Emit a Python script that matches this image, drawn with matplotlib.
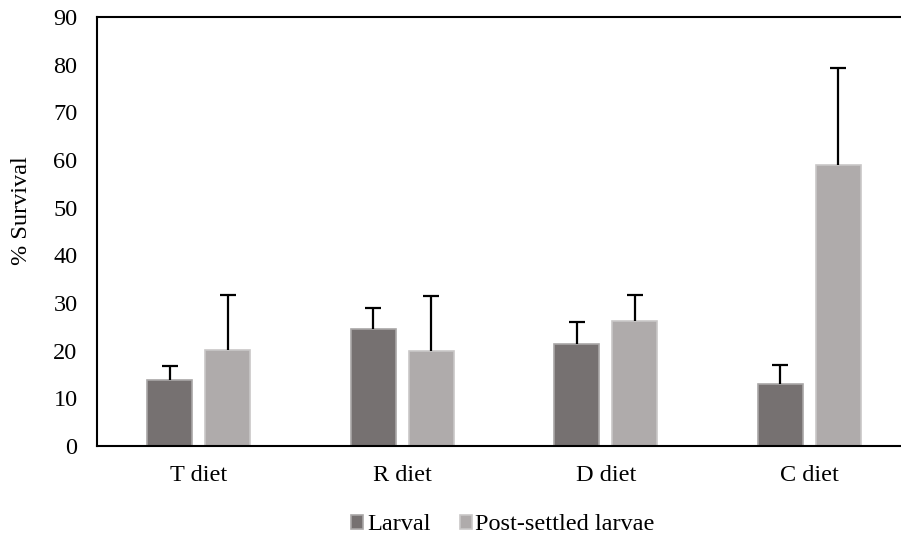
import matplotlib
matplotlib.use("Agg")
import matplotlib.pyplot as plt
import numpy as np

categories = ["T diet", "R diet", "D diet", "C diet"]
larval = [13.9, 24.6, 21.4, 13.1]
larval_err = [2.9, 4.3, 4.6, 3.9]
post = [20.1, 20.0, 26.3, 59.0]
post_err = [11.6, 11.5, 5.4, 20.3]
series_names = ["Larval", "Post-settled larvae"]
yticks = [0, 10, 20, 30, 40, 50, 60, 70, 80, 90]

plt.rcParams['font.family'] = ['Liberation Serif', 'DejaVu Serif']
FS = 17.5

W, H = 901, 545
fig = plt.figure(figsize=(W / 100, H / 100), dpi=100)
ax = fig.add_axes([97 / W, 1 - 446 / H, (911 - 97) / W, (446 - 17) / H])

x = np.arange(len(categories))
off = 0.1425
bw = 0.222
b1 = ax.bar(x - off, larval, bw, color='#767171', edgecolor='#a9a7a7', linewidth=1.2,
            label=series_names[0], zorder=2)
b2 = ax.bar(x + off, post, bw, color='#afabab', edgecolor='#c9c7c7', linewidth=1.2,
            label=series_names[1], zorder=2)

for xs, vals, errs in [(x - off, larval, larval_err), (x + off, post, post_err)]:
    vals = np.array(vals)
    errs = np.array(errs)
    ax.errorbar(xs, vals, yerr=[np.zeros(len(vals)), errs], fmt='none',
                ecolor='black', elinewidth=1.6, capsize=0, zorder=3)
    ax.plot(xs, vals + errs, linestyle='none', marker='_', markersize=12,
            markeredgewidth=1.6, color='black', zorder=3)

ax.set_xlim(-0.5, 3.5)
ax.set_ylim(0, 90)
ax.set_yticks(yticks)
ax.set_xticks(x)
ax.set_xticklabels(categories)
ax.tick_params(axis='both', length=0, labelsize=FS)
ax.tick_params(axis='x', pad=14)
ax.tick_params(axis='y', pad=14)
for s in ax.spines.values():
    s.set_linewidth(1.5)
    s.set_color('black')

fig.text(22 / W, 1 - 211 / H, "% Survival", rotation=90, ha='center', va='center', fontsize=FS)

fig.legend(handles=[b1, b2], labels=series_names, loc='center',
           bbox_to_anchor=(503 / W, 1 - 525 / H), ncol=2, frameon=False, fontsize=FS,
           handlelength=0.5, handleheight=0.5, handletextpad=0.15, columnspacing=1.2,
           borderpad=0)

fig.savefig("out.png", dpi=100)
